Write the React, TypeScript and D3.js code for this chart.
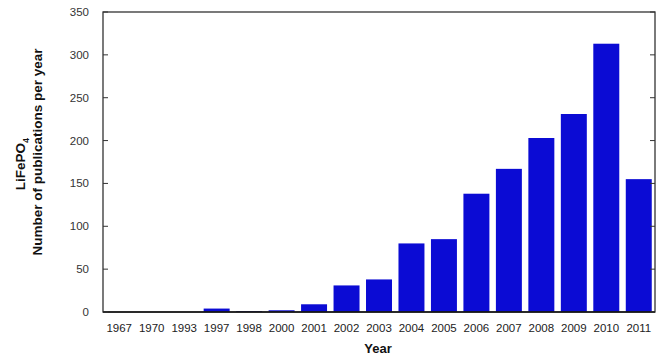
import React from "react";
import * as d3 from "d3";

const years = ["1967","1970","1993","1997","1998","2000","2001","2002","2003","2004","2005","2006","2007","2008","2009","2010","2011"];
const publications = [0, 0, 0, 4, 1, 2, 9, 31, 38, 80, 85, 138, 167, 203, 231, 313, 155];
const yTicks = [0, 50, 100, 150, 200, 250, 300, 350];

const W = 662, H = 362;
const left = 103, right = 655, top = 12, bottom = 312;

export default function App() {
  const x = d3.scaleBand<string>().domain(years).range([left, right]).paddingInner(0.2).paddingOuter(0.1);
  const y = d3.scaleLinear().domain([0, 350]).range([bottom, top]);
  const font = "'Liberation Sans', Arial, sans-serif";
  return (
    <svg width={W} height={H} style={{ position: "absolute", left: 0, top: 0, background: "#fff" }} fontFamily={font}>
      {years.map((yr, i) => (
        <rect key={yr} x={x(yr)} y={y(publications[i])} width={x.bandwidth()} height={bottom - y(publications[i])} fill="#0b0bd4" />
      ))}
      <rect x={left} y={top} width={right - left} height={bottom - top} fill="none" stroke="#333" strokeWidth={1.3} />
      <line x1={left} x2={right} y1={bottom} y2={bottom} stroke="#111" strokeWidth={1.6} />
      {yTicks.map((t) => (
        <g key={t}>
          <line x1={left} x2={left + 5} y1={y(t)} y2={y(t)} stroke="#333" strokeWidth={1} />
          <line x1={right - 5} x2={right} y1={y(t)} y2={y(t)} stroke="#333" strokeWidth={1} />
          <text x={89} y={y(t)} dy="0.35em" textAnchor="end" fontSize={11.5} fill="#333">{t}</text>
        </g>
      ))}
      {years.map((yr) => (
        <text key={yr} x={(x(yr) as number) + x.bandwidth() / 2} y={332} textAnchor="middle" fontSize={11.5} fill="#222">{yr}</text>
      ))}
      <text x={378} y={353} textAnchor="middle" fontSize={13} fontWeight="bold" fill="#111">Year</text>
      <text transform="translate(25,164) rotate(-90)" textAnchor="middle" fontSize={13.5} fontWeight="bold" fill="#111">
        LiFePO<tspan fontSize={9} dy="4">4</tspan>
      </text>
      <text transform="translate(42,152) rotate(-90)" textAnchor="middle" fontSize={13.5} fontWeight="bold" fill="#111">Number of publications per year</text>
    </svg>
  );
}
